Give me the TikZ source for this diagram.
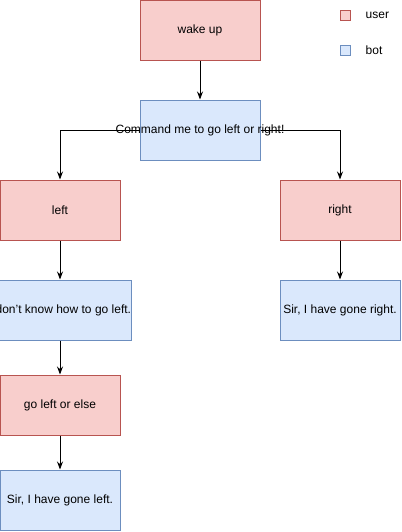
\documentclass[tikz,border=0pt]{standalone}
\usepackage{fontspec}
\setmainfont{Liberation Sans}
\usetikzlibrary{arrows.meta,positioning}

\definecolor{userfill}{HTML}{F8CECC}
\definecolor{userline}{HTML}{B85450}
\definecolor{botfill}{HTML}{DAE8FC}
\definecolor{botline}{HTML}{6C8EBF}

\tikzset{
  msg/.style={minimum width=90pt,minimum height=45pt,inner sep=0pt,line width=0.75pt,
    font=\fontsize{9}{11}\selectfont},
  user/.style={msg,draw=userline,fill=userfill},
  bot/.style={msg,draw=botline,fill=botfill},
  legbox/.style={minimum size=7.5pt,inner sep=0pt,line width=0.75pt},
  flow/.style={line width=0.75pt,-{Stealth[length=6pt,width=4.5pt]}}
}

\begin{document}
\begin{tikzpicture}[x=0.75pt,y=-0.75pt]
  \useasboundingbox (0,0) rectangle (401,532);
  \clip (0,0) rectangle (401,532);

  % legend
  \node[legbox,draw=userline,fill=userfill] (leguser) at (345.5,15.5) {};
  \node[anchor=west,font=\fontsize{9}{11}\selectfont] at (361,15.5) {user};
  \node[legbox,draw=botline,fill=botfill] (legbot) at (345.5,50) {};
  \node[anchor=west,font=\fontsize{9}{11}\selectfont] at (361,50) {bot};

  % conversation
  \node[user] (wake) at (200,30) {wake up};
  \node[bot] (cmd) at (200,130) {};
  \node[user] (left) at (60,210) {left};
  \node[user] (right) at (340,210) {right};
  \node[bot] (noleft) at (60,310) {I don't know how to go left.};
  \node[bot] (goneright) at (340,310) {Sir, I have gone right.};
  \node[user] (orelse) at (60,405) {go left or else};
  \node[bot] (goneleft) at (60,500) {Sir, I have gone left.};

  \draw[flow] (wake) -- (cmd);
  \draw[flow] (cmd.west) -| (left.north);
  \draw[flow] (cmd.east) -| (right.north);
  \draw[flow] (left) -- (noleft);
  \draw[flow] (noleft) -- (orelse);
  \draw[flow] (orelse) -- (goneleft);
  \draw[flow] (right) -- (goneright);

  % label over the side lines
  \node[font=\fontsize{9}{11}\selectfont,inner sep=0pt] at (cmd) {Command me to go left or right!};
\end{tikzpicture}
\end{document}
